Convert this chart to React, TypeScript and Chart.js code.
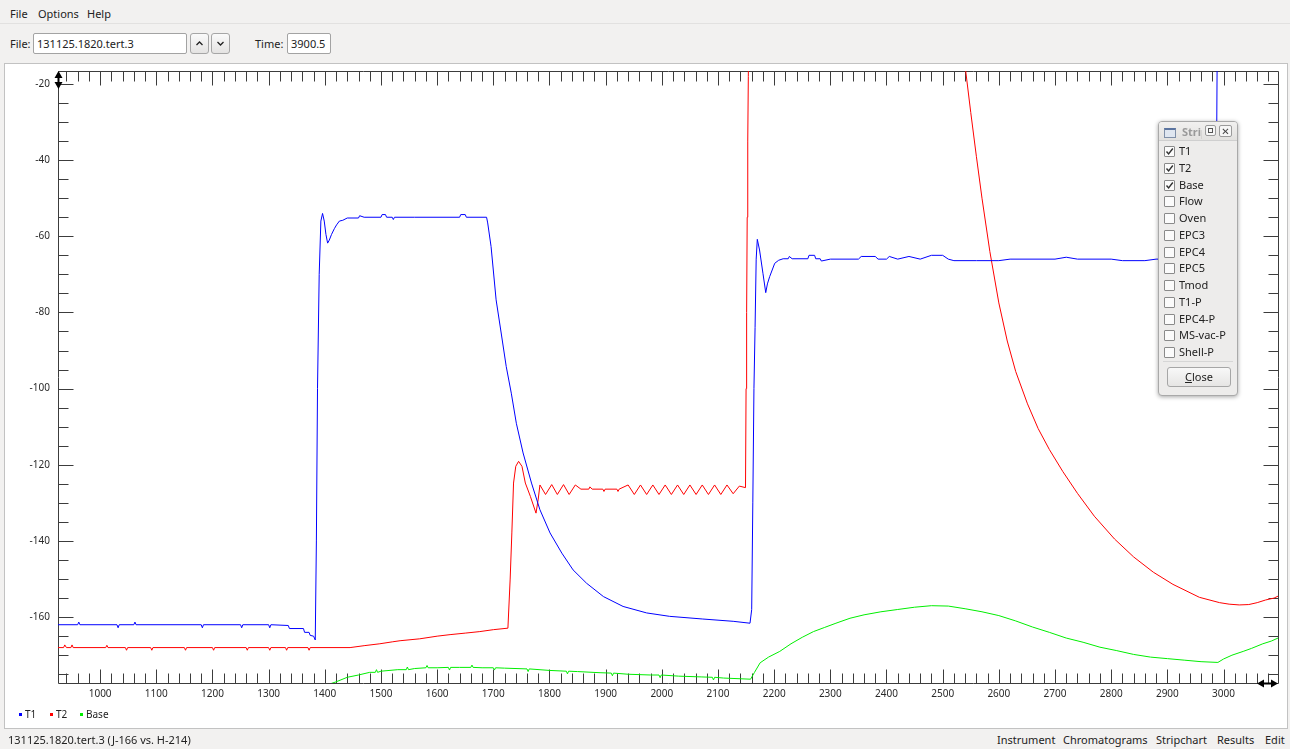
import React, { useEffect, useRef } from "react";
import { Chart, registerables } from "chart.js";
Chart.register(...registerables);

// ---- axis ticks ----
const xTicks = [1000, 1100, 1200, 1300, 1400, 1500, 1600, 1700, 1800, 1900, 2000, 2100, 2200, 2300, 2400, 2500, 2600, 2700, 2800, 2900, 3000];
const yTicks = [-20, -40, -60, -80, -100, -120, -140, -160];
const xRange = [925, 3097];
const yRange = [-177.3, -16.6];
const xMinorStep = 20;
const yMinorStep = 5;

// ---- series (time, value) ----
const t1Points: [number, number][] = [
  [925, -162], [960, -162], [962, -161.3], [964, -162], [1030, -162], [1032, -162.8], [1034, -162], [1060, -162], [1062, -161.3], [1064, -162],
  [1180, -162], [1182, -162.8], [1184, -162], [1250, -162], [1252, -162.8], [1254, -162], [1300, -162], [1302, -162.8], [1304, -162],
  [1335, -162.2], [1337, -163], [1362, -163], [1364, -164], [1372, -164], [1374, -164.8], [1380, -165], [1383, -166],
  [1385, -140], [1387, -100], [1390, -70], [1393, -56], [1396, -54], [1399, -56], [1402, -59.5], [1405, -61.8], [1408, -61],
  [1412, -59.5], [1417, -58], [1421, -57], [1426, -56], [1432, -55.8], [1440, -55.2], [1460, -55.2], [1462, -54.6], [1470, -55],
  [1500, -55], [1502, -54.3], [1508, -54.3], [1510, -55], [1520, -55], [1522, -55.6], [1524, -55], [1560, -55], [1640, -55],
  [1642, -54.3], [1650, -54.3], [1652, -55], [1688, -55], [1690, -56.5], [1696, -62.7], [1705, -76.7], [1714, -85.4], [1723, -94.2],
  [1732, -101.2], [1741, -109.1], [1753, -116.9], [1768, -124.8], [1783, -131.8], [1801, -137.9], [1822, -143.2], [1842, -147.6],
  [1866, -151.1], [1896, -154.6], [1931, -157.2], [1973, -158.9], [2014, -159.8], [2073, -160.5], [2127, -161.1], [2157, -161.6],
  [2160, -158], [2162, -130], [2164, -100], [2166, -84], [2168, -66], [2170, -60.8], [2174, -63.6], [2180, -69.7], [2185, -74.8],
  [2188, -72.5], [2192, -70.6], [2201, -67.1], [2208, -66.3], [2216, -65.9], [2225, -65.9], [2227, -65.3], [2232, -65.9],
  [2260, -65.9], [2262, -65], [2272, -65], [2274, -65.9], [2282, -65.9], [2284, -66.5], [2300, -66], [2350, -66], [2355, -65.3],
  [2380, -65.3], [2385, -66], [2400, -66], [2405, -65.3], [2420, -66], [2440, -65.3], [2460, -66], [2480, -65], [2500, -65],
  [2510, -66], [2520, -66.4], [2560, -66.4], [2600, -66.4], [2620, -66], [2700, -66], [2720, -65.5], [2740, -66], [2800, -66],
  [2820, -66.4], [2860, -66.4], [2880, -66], [2960, -66], [2985, -66], [2988, -30], [2990, 20], [3097, 20],
];

const t2Points: [number, number][] = [
  [925, -168], [935, -168], [937, -167.3], [940, -168], [948, -168], [950, -167.3], [952, -168], [1010, -168], [1012, -167.4], [1014, -168],
  [1045, -168], [1047, -168.7], [1049, -168], [1090, -168], [1092, -168.7], [1094, -168], [1150, -168], [1152, -168.7], [1154, -168],
  [1200, -168], [1202, -168.7], [1204, -168], [1260, -168], [1262, -168.7], [1264, -168], [1300, -168], [1302, -168.7], [1304, -168],
  [1330, -168], [1332, -168.7], [1334, -168], [1370, -168], [1372, -168.7], [1374, -168], [1445, -168], [1470, -167.5], [1498, -167],
  [1520, -166.5], [1534, -166.2], [1569, -165.7], [1600, -165], [1623, -164.6], [1650, -164.2], [1676, -163.8], [1700, -163.3],
  [1726, -162.9], [1730, -150], [1733, -137.9], [1736, -124.8], [1740, -120.4], [1745, -119.1], [1751, -120.4], [1757, -124.8],
  [1766, -128.3], [1776, -132.7], [1780, -129], [1783, -125.3], [1793, -127.8], [1804, -125.2], [1814, -127.8], [1825, -125.2],
  [1835, -127.8], [1846, -125.3], [1856, -126.4], [1870, -126.4], [1872, -125.8], [1876, -126.4], [1895, -126.4], [1897, -127],
  [1899, -126.4], [1920, -126.4], [1922, -127], [1924, -126.4], [1940, -125.3], [1951, -127.8], [1962, -125.3], [1973, -127.8],
  [1984, -125.3], [1995, -127.8], [2006, -125.3], [2017, -127.8], [2028, -125.3], [2039, -127.8], [2050, -125.3], [2061, -127.8],
  [2072, -125.3], [2083, -127.8], [2094, -125.3], [2105, -127.8], [2116, -125.3], [2127, -127.6], [2138, -125.6], [2149, -126],
  [2150, -100], [2151, -80], [2152, -55], [2153, -35], [2154, -18], [2156, 20], [2525, 20], [2532, -5.5], [2541, -16.6],
  [2550, -27.5], [2560, -39], [2570, -50], [2584, -64], [2600, -77.5], [2615, -87.5], [2630, -95.5], [2651, -104], [2670, -110.5],
  [2690, -116], [2714, -121.8], [2740, -127.5], [2770, -133.5], [2806, -139.5], [2840, -144.2], [2875, -148.2], [2910, -151.4],
  [2957, -154.8], [2993, -156.2], [3010, -156.6], [3028, -156.8], [3045, -156.7], [3060, -156.2], [3075, -155.5], [3090, -155], [3097, -154.5],
];

const basePoints: [number, number][] = [
  [925, -182], [1405, -182], [1410, -177.5], [1420, -177], [1440, -175.8], [1460, -175.2], [1480, -174.5], [1490, -174.5], [1492, -173.8],
  [1494, -174.5], [1500, -174.2], [1530, -173.8], [1545, -173.8], [1547, -173.1], [1549, -173.8], [1560, -173.5], [1580, -173.3],
  [1582, -172.7], [1584, -173.3], [1600, -173.3], [1620, -173.2], [1622, -173.9], [1624, -173.2], [1640, -173.2], [1660, -173.2],
  [1662, -172.6], [1664, -173.2], [1680, -173.3], [1700, -173.3], [1702, -173.9], [1704, -173.3], [1720, -173.4], [1760, -173.6],
  [1762, -174.3], [1764, -173.6], [1800, -174], [1830, -174.2], [1832, -174.9], [1834, -174.2], [1850, -174.3], [1890, -174.6],
  [1910, -174.7], [1912, -175.4], [1914, -174.7], [1940, -175], [1980, -175.2], [1995, -175.2], [1997, -175.9], [1999, -175.2],
  [2030, -175.5], [2070, -175.7], [2090, -175.8], [2092, -176.5], [2094, -175.8], [2110, -176], [2158, -176.3],
  [2165, -174.5], [2175, -172], [2190, -170.5], [2210, -169], [2230, -167], [2250, -165.3], [2270, -163.8], [2290, -162.7],
  [2310, -161.6], [2335, -160.3], [2360, -159.4], [2390, -158.6], [2420, -158], [2450, -157.4], [2480, -157], [2510, -157.1],
  [2540, -157.8], [2570, -158.6], [2600, -159.6], [2630, -161], [2660, -162.6], [2690, -164], [2720, -165.5], [2750, -166.6],
  [2780, -167.9], [2810, -168.8], [2840, -169.8], [2870, -170.5], [2900, -170.9], [2930, -171.3], [2960, -171.7], [2990, -171.9],
  [3000, -171], [3015, -170], [3035, -169], [3050, -168.2], [3070, -167], [3085, -166.3], [3097, -165.5],
];

const seriesNames = ["T1", "T2", "Base"];
const seriesColors = ["#0000ff", "#ff0000", "#00ee00"];
const checkItems = ["T1", "T2", "Base", "Flow", "Oven", "EPC3", "EPC4", "EPC5", "Tmod", "T1-P", "EPC4-P", "MS-vac-P", "Shell-P"];
const checkedCount = 3;

const UI_FONT = "'Noto Sans', 'DejaVu Sans', sans-serif";

const framePlugin = {
  id: "frameTicks",
  beforeDatasetsDraw(chart: any) {
    const { ctx, chartArea: a, scales } = chart;
    const x = scales.x, y = scales.y;
    const L = Math.round(a.left) + 0.5, R = Math.round(a.right) + 0.5;
    const T = Math.round(a.top) + 0.5, B = Math.round(a.bottom) + 0.5;
    ctx.save();
    ctx.strokeStyle = "#3c3c3c";
    ctx.lineWidth = 1;
    ctx.beginPath();
    ctx.moveTo(L, T); ctx.lineTo(R, T); ctx.lineTo(R, B); ctx.lineTo(L, B); ctx.closePath();
    for (let v = Math.ceil(xRange[0] / xMinorStep) * xMinorStep; v <= xRange[1]; v += xMinorStep) {
      const px = Math.round(x.getPixelForValue(v)) + 0.5;
      const len = v % 100 === 0 ? 14 : 10;
      ctx.moveTo(px, T); ctx.lineTo(px, T + len);
      ctx.moveTo(px, B); ctx.lineTo(px, B - len);
    }
    for (let v = Math.ceil(yRange[0] / yMinorStep) * yMinorStep; v <= yRange[1]; v += yMinorStep) {
      const py = Math.round(y.getPixelForValue(v)) + 0.5;
      const len = v % 20 === 0 ? 15 : 10;
      ctx.moveTo(L, py); ctx.lineTo(L + len, py);
      ctx.moveTo(R, py); ctx.lineTo(R - len, py);
    }
    ctx.stroke();
    ctx.restore();
  },
  afterDatasetsDraw(chart: any) {
    const { ctx, chartArea: a } = chart;
    const L = Math.round(a.left), R = Math.round(a.right);
    const T = Math.round(a.top), B = Math.round(a.bottom);
    ctx.save();
    ctx.fillStyle = "#000";
    ctx.beginPath();
    ctx.moveTo(L + 0.5, T); ctx.lineTo(L + 4.5, T + 7); ctx.lineTo(L - 3.5, T + 7); ctx.closePath();
    ctx.moveTo(L + 0.5, T + 18); ctx.lineTo(L + 4.5, T + 11); ctx.lineTo(L - 3.5, T + 11); ctx.closePath();
    ctx.fill();
    ctx.fillRect(L - 0.5, T + 6, 2, 6);
    ctx.beginPath();
    ctx.moveTo(R - 21, B + 0.5); ctx.lineTo(R - 14, B - 3.5); ctx.lineTo(R - 14, B + 4.5); ctx.closePath();
    ctx.moveTo(R, B + 0.5); ctx.lineTo(R - 7, B - 3.5); ctx.lineTo(R - 7, B + 4.5); ctx.closePath();
    ctx.fill();
    ctx.fillRect(R - 15, B - 0.5, 9, 2);
    ctx.restore();
  },
};

function StripChart() {
  const ref = useRef<HTMLCanvasElement | null>(null);
  useEffect(() => {
    if (!ref.current) return;
    const toXY = (p: [number, number][]) => p.map(([x, y]) => ({ x, y }));
    const all = [t1Points, t2Points, basePoints];
    const chart = new Chart(ref.current, {
      type: "line",
      data: {
        datasets: all.map((pts, i) => ({
          label: seriesNames[i],
          data: toXY(pts),
          borderColor: seriesColors[i],
          backgroundColor: seriesColors[i],
          borderWidth: 1,
          pointRadius: 0,
          tension: 0,
          fill: false,
          clip: 0,
        })),
      },
      options: {
        animation: false,
        responsive: false,
        maintainAspectRatio: false,
        events: [],
        layout: { padding: { left: 0, top: 7, right: 8, bottom: 0 }, autoPadding: false },
        plugins: { legend: { display: false }, tooltip: { enabled: false } },
        scales: {
          x: {
            type: "linear",
            min: xRange[0],
            max: xRange[1],
            grid: { display: false, drawTicks: false },
            border: { display: false },
            afterBuildTicks: (s: any) => { s.ticks = xTicks.map((v) => ({ value: v })); },
            afterFit: (s: any) => { s.height = 45; s.paddingLeft = 0; s.paddingRight = 0; },
            ticks: { padding: 5, color: "#2a2a2a", font: { family: UI_FONT, size: 10 }, maxRotation: 0, autoSkip: false, callback: (v: any) => String(v) },
          },
          y: {
            type: "linear",
            min: yRange[0],
            max: yRange[1],
            grid: { display: false, drawTicks: false },
            border: { display: false },
            afterBuildTicks: (s: any) => { s.ticks = yTicks.map((v) => ({ value: v })); },
            afterFit: (s: any) => { s.width = 53; s.paddingTop = 0; s.paddingBottom = 0; },
            ticks: { padding: 8, color: "#2a2a2a", font: { family: UI_FONT, size: 10 }, autoSkip: false, callback: (v: any) => String(v) },
          },
        },
      },
      plugins: [framePlugin],
    } as any);
    return () => chart.destroy();
  }, []);
  return <canvas ref={ref} width={1281} height={664} style={{ position: "absolute", left: 0, top: 0, width: 1281, height: 664 }} />;
}

const abs = (left: number, top: number, extra: React.CSSProperties = {}): React.CSSProperties => ({ position: "absolute", left, top, ...extra });

function CheckBox({ checked }: { checked: boolean }) {
  return (
    <div style={{ position: "absolute", left: 0, top: 0, width: 9, height: 9, border: "1px solid #8a8a8a", background: "#fbfbfb", borderRadius: 1 }}>
      {checked && (
        <svg width="9" height="9" style={{ position: "absolute", left: 0, top: 0 }}>
          <path d="M1.5 4.5 L3.6 7 L7.8 1.5" stroke="#333" strokeWidth="1.4" fill="none" />
        </svg>
      )}
    </div>
  );
}

function SeriesWindow() {
  return (
    <div style={abs(1158, 121, { width: 80, height: 275, background: "#edeceb", border: "1px solid #a9a9a9", borderRadius: 4, boxShadow: "0 1px 4px rgba(0,0,0,0.35)", boxSizing: "border-box", overflow: "hidden" })}>
      <div style={abs(0, 0, { width: 78, height: 18, background: "linear-gradient(#f1f0ef,#e2e1df)", borderBottom: "1px solid #cfcfcf" })}>
        <div style={abs(5, 6, { width: 10, height: 7, border: "1px solid #7f8fa8", background: "#dfe6f0", borderTop: "2px solid #5b74a0" })} />
        <div style={abs(23, 2, { fontSize: 11, fontWeight: 700, color: "#9a9a9a", width: 20, overflow: "hidden", whiteSpace: "nowrap" })}>Strip</div>
        <div style={abs(46, 3, { width: 11, height: 11, border: "1px solid #9a9a9a", borderRadius: 2, background: "#f6f6f6", boxSizing: "border-box" })}>
          <div style={abs(2, 2, { width: 5, height: 5, border: "1px solid #555", boxSizing: "border-box" })} />
        </div>
        <div style={abs(60, 3, { width: 13, height: 12, border: "1px solid #9a9a9a", borderRadius: 2, background: "#f6f6f6", boxSizing: "border-box", fontSize: 10, lineHeight: "10px", textAlign: "center", color: "#444" })}>✕</div>
      </div>
      {checkItems.map((name, i) => (
        <div key={name} style={abs(5, 23 + i * 16.75, { width: 72, height: 12 })}>
          <div style={abs(0, 1)}><CheckBox checked={i < checkedCount} /></div>
          <div style={abs(15, -2, { fontSize: 11, color: "#222", whiteSpace: "nowrap" })}>{name}</div>
        </div>
      ))}
      <div style={abs(4, 239, { width: 70, height: 1, background: "#d6d6d6" })} />
      <div style={abs(8, 245, { width: 64, height: 20, border: "1px solid #a6a6a6", borderRadius: 3, background: "linear-gradient(#f8f8f8,#e6e5e4)", boxSizing: "border-box", fontSize: 11, lineHeight: "18px", textAlign: "center", color: "#222" })}>
        <span style={{ textDecoration: "underline" }}>C</span>lose
      </div>
    </div>
  );
}

function ToolButton({ left, dir }: { left: number; dir: "up" | "down" }) {
  return (
    <div style={abs(left, 33, { width: 19, height: 21, border: "1px solid #a6a6a6", borderRadius: 3, background: "linear-gradient(#fafafa,#e4e3e2)", boxSizing: "border-box" })}>
      <svg width="17" height="19" style={{ position: "absolute", left: 0, top: 0 }}>
        <path d={dir === "up" ? "M5.5 11 L8.5 8 L11.5 11" : "M5.5 8 L8.5 11 L11.5 8"} stroke="#222" strokeWidth="1.3" fill="none" />
      </svg>
    </div>
  );
}

export default function App() {
  const statusRight: [string, number][] = [["Instrument", 997], ["Chromatograms", 1063], ["Stripchart", 1156], ["Results", 1217], ["Edit", 1265]];
  return (
    <div style={{ position: "fixed", left: 0, top: 0, width: 1290, height: 749, background: "#f2f1f0", fontFamily: UI_FONT, fontSize: 11, color: "#222", overflow: "hidden" }}>
      <div style={abs(10, 6)}>File</div>
      <div style={abs(38, 6)}>Options</div>
      <div style={abs(87, 6)}>Help</div>
      <div style={abs(0, 23, { width: 1290, height: 1, background: "#e2e1e0" })} />
      <div style={abs(10, 36)}>File:</div>
      <div style={abs(33, 33, { width: 154, height: 21, border: "1px solid #a3a3a3", borderRadius: 2, background: "#fff", boxSizing: "border-box" })}>
        <div style={abs(3, 2)}>131125.1820.tert.3</div>
      </div>
      <ToolButton left={190} dir="up" />
      <ToolButton left={211} dir="down" />
      <div style={abs(255, 36)}>Time:</div>
      <div style={abs(287, 33, { width: 44, height: 21, border: "1px solid #a3a3a3", borderRadius: 2, background: "#fff", boxSizing: "border-box" })}>
        <div style={abs(3, 2)}>3900.5</div>
      </div>
      <div style={abs(4, 63, { width: 1284, height: 666, background: "#fff", border: "1px solid #c2c2c2", boxSizing: "border-box" })}>
        <StripChart />
        {seriesNames.map((n, i) => (
          <div key={n} style={abs([14, 45, 75][i], 643, { fontSize: 10, whiteSpace: "nowrap" })}>
            <span style={{ display: "inline-block", width: 3, height: 3, background: seriesColors[i], marginRight: 3, verticalAlign: "middle", position: "relative", top: -1 }} />
            {n}
          </div>
        ))}
      </div>
      <SeriesWindow />
      <div style={abs(8, 732)}>131125.1820.tert.3 (J-166 vs. H-214)</div>
      {statusRight.map(([t, x]) => (
        <div key={t} style={abs(x, 732)}>{t}</div>
      ))}
    </div>
  );
}
